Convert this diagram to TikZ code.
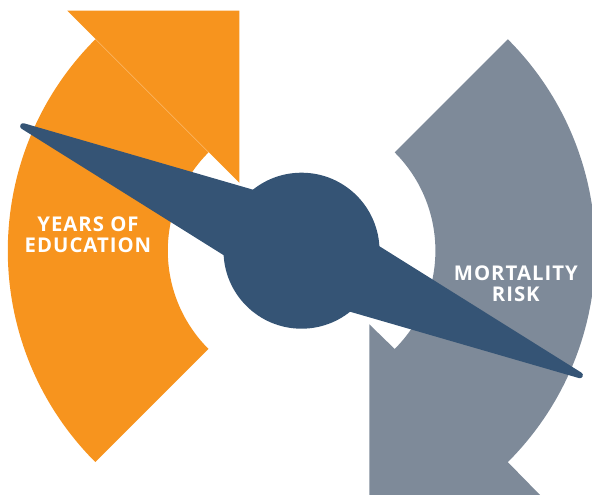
\documentclass[tikz,border=0pt]{standalone}
\usepackage{fontspec}
\newfontfamily\captionfont{Open Sans}[LetterSpace=5]
\usetikzlibrary{calc}
\definecolor{eduorange}{RGB}{247,148,30}
\definecolor{riskgray}{RGB}{126,138,153}
\definecolor{needleblue}{RGB}{53,84,117}

\begin{document}
\begin{tikzpicture}[x=1pt,y=1pt,
		caption/.style={text=white,font=\captionfont\bfseries\fontsize{20.3}{21}\selectfont,align=center,inner sep=0pt}]
		%%%%% START %%%%%
		\useasboundingbox (0,0) rectangle (592,495);
		
		\coordinate (edu) at (306.8,244.3);
		\coordinate (risk) at (296.4,244.3);
		
		% years of education arrow
		\fill[eduorange] ($(edu)+(135:299)$) arc (135:225:299) -- ($(edu)+(225:139)$) arc (225:135:139) -- cycle;
		\fill[eduorange] ($(edu)+(-239.5,240.1)$) -- ($(edu)+(-67.5,240.1)$) -- ($(edu)+(-67.5,68.1)$) -- cycle;
		
		% mortality risk arrow
		\fill[riskgray] ($(risk)+(45:299)$) arc (45:-45:299) -- ($(risk)+(244.9,-245.6)$) -- ($(risk)+(72.9,-245.6)$) -- ($(risk)+(72.9,-73.6)$) -- ($(risk)+(-45:139)$) arc (-45:45:139) -- cycle;
		
		% seesaw
		\node[circle,fill=needleblue,minimum size=156pt,inner sep=0pt] (hub) at (301.5,244.3) {};
		\filldraw[needleblue,line width=6pt,line join=round] ($(hub.center)+(155.9:305)$) -- ($(hub.center)+(65.9:42.5)$) -- ($(hub.center)+(-24.1:305)$) -- ($(hub.center)+(245.9:42.5)$) -- cycle;
		
		\node[caption] (edulabel) at (88,260.2) {YEARS OF\\EDUCATION};
		\node[caption] (risklabel) at (515.8,211.4) {MORTALITY\\RISK};
		
		%%%%% END %%%%%
\end{tikzpicture}
\end{document}
